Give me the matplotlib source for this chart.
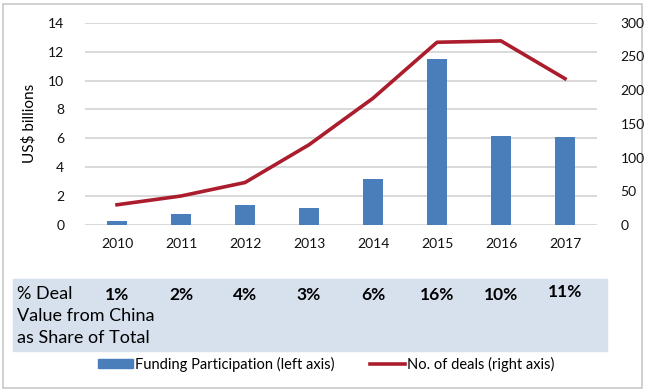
import matplotlib
matplotlib.use("Agg")
import matplotlib.pyplot as plt
import matplotlib.transforms as mtransforms
from matplotlib.patches import Rectangle
from matplotlib.lines import Line2D

plt.rcParams['font.family'] = ['Lato', 'DejaVu Sans']

years = ['2010', '2011', '2012', '2013', '2014', '2015', '2016', '2017']
funding = [0.3, 0.75, 1.38, 1.17, 3.2, 11.5, 6.16, 6.1]      # US$ billions, left axis
deals = [30, 43, 63, 119, 188, 271, 273, 217]                 # number of deals, right axis
share = ['1%', '2%', '4%', '3%', '6%', '16%', '10%', '11%']   # % deal value from China

W, H = 650, 392
fig = plt.figure(figsize=(W / 100, H / 100), dpi=100)
fig.patch.set_facecolor('white')

def fx(px):
    return px / W

def fy(py):
    return 1 - py / H

# outer grey frame
fig.patches.append(Rectangle((fx(3), fy(388)), fx(642) - fx(3), fy(4) - fy(388),
                             transform=fig.transFigure, fill=False,
                             edgecolor='#c8c8c8', linewidth=1.2, zorder=-2))

# table band
fig.patches.append(Rectangle((fx(13), fy(351)), fx(607) - fx(13), fy(279) - fy(351),
                             transform=fig.transFigure, color='#d6e1ed', zorder=-1))

ax = fig.add_axes([fx(85), fy(225), fx(597) - fx(85), fy(22.7) - fy(225)])
x = list(range(len(years)))
ax.bar(x, funding, width=0.31, color='#4a7ebb', zorder=3)
ax.set_ylim(0, 14)
ax.set_xlim(-0.5, len(years) - 0.5)
ax.set_yticks(range(0, 15, 2))
ax.set_xticks(x)
ax.set_xticklabels(years)
ax.grid(axis='y', color='#d9d9d9', linewidth=1.4, zorder=0)
for s in ax.spines.values():
    s.set_visible(False)
ax.tick_params(axis='both', length=0, labelsize=10, colors='#111111')
ax.tick_params(axis='x', pad=9)
ax.tick_params(axis='y', pad=15)
ax.set_ylabel('US$ billions', fontsize=11, labelpad=8)

ax2 = ax.twinx()
ax2.plot(x, deals, color='#ab1c2c', linewidth=2.6, zorder=4)
ax2.set_ylim(0, 300)
ax2.set_yticks(range(0, 301, 50))
for s in ax2.spines.values():
    s.set_visible(False)
ax2.tick_params(axis='y', length=0, labelsize=10, colors='#111111', pad=17)

# table text
fig.text(fx(17), fy(294), '% Deal', fontsize=13, va='center', ha='left')
fig.text(fx(17), fy(316), 'Value from China', fontsize=13, va='center', ha='left')
fig.text(fx(17), fy(338), 'as Share of Total', fontsize=13, va='center', ha='left')
blend = mtransforms.blended_transform_factory(ax.transData, fig.transFigure)
for i, lab in enumerate(share):
    yy = fy(292) if lab == '11%' else fy(295)
    fig.text(i, yy, lab, transform=blend, fontsize=12.5, fontweight='bold',
             ha='center', va='center')

# legend
handles = [Rectangle((0, 0), 1, 1, color='#4a7ebb'),
           Line2D([0], [0], color='#ab1c2c', linewidth=2.6)]
fig.legend(handles, ['Funding Participation (left axis)', 'No. of deals (right axis)'],
           loc='center', bbox_to_anchor=(fx(326), fy(364)), ncol=2, frameon=False,
           fontsize=10.5, handlelength=2.4, handletextpad=0.15, columnspacing=2.4,
           handleheight=0.6)

fig.savefig('out.png', dpi=100)
